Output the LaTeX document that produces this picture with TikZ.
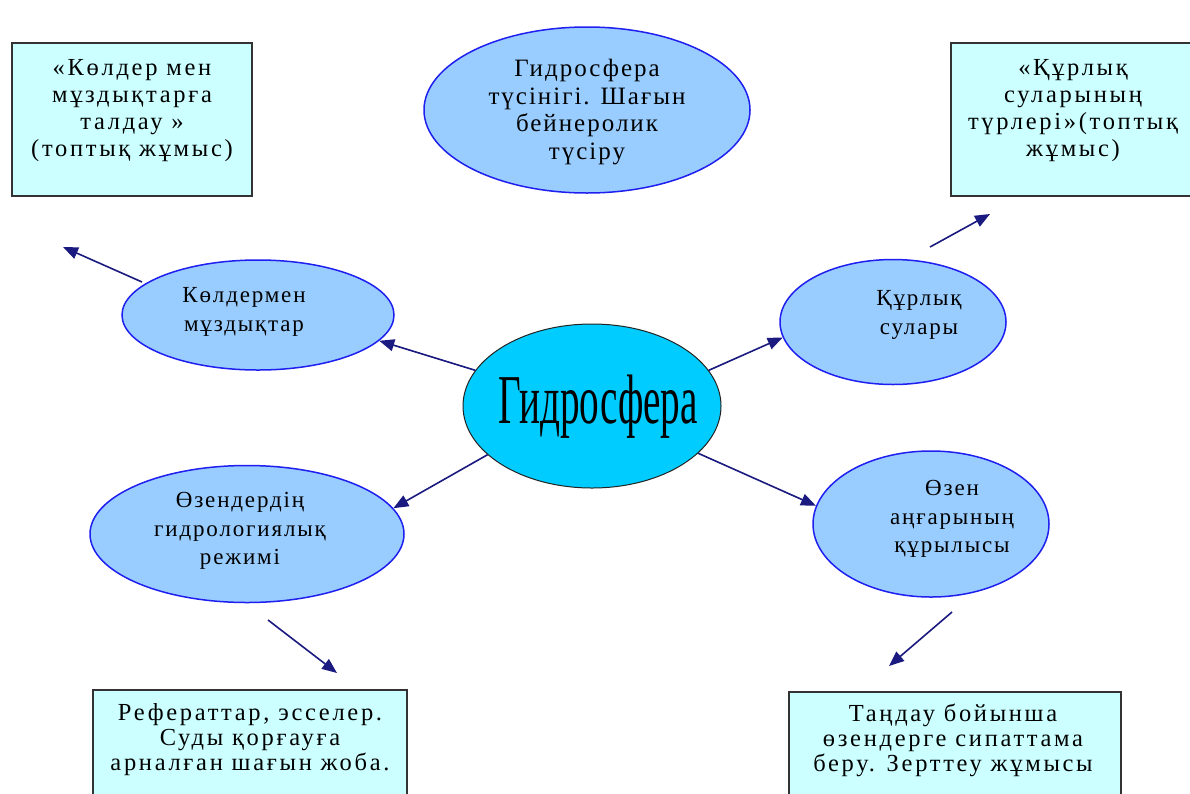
\documentclass[tikz,border=0pt]{standalone}
\usepackage{fontspec}
\usepackage{graphicx}
\setmainfont[LetterSpace=8]{Liberation Serif}
\newfontfamily\boxfont[LetterSpace=11]{Liberation Serif}
\newfontfamily\titlefont{Liberation Serif}
\usetikzlibrary{shapes.geometric,arrows.meta}
\definecolor{boxfill}{HTML}{CCFFFF}
\definecolor{boxline}{HTML}{333333}
\definecolor{ellfill}{HTML}{99CCFF}
\definecolor{ellline}{HTML}{1F1FF0}
\definecolor{hubfill}{HTML}{00CCFF}
\definecolor{hubline}{HTML}{222222}
\definecolor{navy}{HTML}{1A1A80}
\tikzset{
  box/.style={draw=boxline, line width=2pt, fill=boxfill, inner sep=0pt},
  ell/.style={ellipse, draw=ellline, line width=1.5pt, fill=ellfill, inner sep=0pt},
  hub/.style={ellipse, draw=hubline, line width=1pt, fill=hubfill, inner sep=0pt},
  boxtext/.style={align=center, inner sep=0pt, font=\boxfont\fontsize{24.5}{27}\selectfont},
  boxtextlow/.style={align=center, inner sep=0pt, font=\boxfont\fontsize{24.5}{25}\selectfont},
  elltext/.style={align=center, inner sep=0pt, font=\fontsize{23}{28.5}\selectfont},
  toptext/.style={align=center, inner sep=0pt, font=\fontsize{25}{27.7}\selectfont},
  link/.style={draw=navy, line width=1.6pt, -{Triangle[length=15pt,width=12pt]}},
}
\begin{document}
\begin{tikzpicture}[x=1pt,y=-1pt]
\useasboundingbox (0,0) rectangle (1190,793);
\fill[white] (0,0) rectangle (1190,793);

% boxes
\node[box, minimum width=240pt, minimum height=153pt] (tlbox) at (132,119.5) {};
\node[boxtext] (tltext) at (132,110.5) {«Көлдер мен\\мұздықтарға\\талдау »\\(топтық жұмыс)};
\node[box, minimum width=245pt, minimum height=153pt] (trbox) at (1073.5,119.5) {};
\node[boxtext] (trtext) at (1073,110.5) {«Құрлық\\суларының\\түрлері»(топтық\\жұмыс)};
\node[box, minimum width=314pt, minimum height=120pt] (blbox) at (250,750) {};
\node[boxtextlow] (bltext) at (250,740) {Рефераттар, эсселер.\\Суды қорғауға\\арналған шағын жоба.};
\node[box, minimum width=332pt, minimum height=120pt] (brbox) at (955,752) {};
\node[boxtextlow] (brtext) at (953,740) {Таңдау бойынша\\өзендерге сипаттама\\беру. Зерттеу жұмысы};

% ellipses
\node[ell, minimum width=326pt, minimum height=166pt] (top) at (587,110) {};
\node[toptext] (toptxt) at (587,112) {Гидросфера\\түсінігі. Шағын\\бейнеролик\\түсіру};
\node[ell, minimum width=272pt, minimum height=110pt] (lk) at (258,315) {};
\node[elltext] (lktext) at (244,312) {Көлдермен\\мұздықтар};
\node[ell, minimum width=226pt, minimum height=125pt] (rk) at (893,322) {};
\node[elltext] (rktext) at (919,315) {Құрлық\\сулары};
\node[ell, minimum width=314pt, minimum height=137pt] (bl) at (247,534) {};
\node[elltext] (bltxt) at (240,531) {Өзендердің\\гидрологиялық\\режимі};
\node[ell, minimum width=236pt, minimum height=146pt] (br) at (931,524) {};
\node[elltext] (brtxt) at (952,519) {Өзен\\аңғарының\\құрылысы};

% hub
\node[hub, minimum width=258pt, minimum height=164pt] (hub) at (592,406) {};
\node[inner sep=0pt] (hubtext) at (598,407) {\scalebox{0.56}[1]{\titlefont\fontsize{70}{70}\selectfont Гидросфера}};

% connectors from hub
\draw[link] (hub.163) -- (lk.348);
\draw[link] (hub.17) -- (rk.188);
\draw[link] (hub.205) -- (bl.10);
\draw[link] (hub.336) -- (br.171);

% free arrows
\coordinate (lkout) at (142,282);
\coordinate (lkend) at (63,247);
\coordinate (rkout) at (930,247);
\coordinate (rkend) at (990,214);
\coordinate (blout) at (268,620);
\coordinate (blend) at (337,673);
\coordinate (brout) at (952,612);
\coordinate (brend) at (889,666);
\draw[link] (lkout) -- (lkend);
\draw[link] (rkout) -- (rkend);
\draw[link] (blout) -- (blend);
\draw[link] (brout) -- (brend);
\end{tikzpicture}
\end{document}
